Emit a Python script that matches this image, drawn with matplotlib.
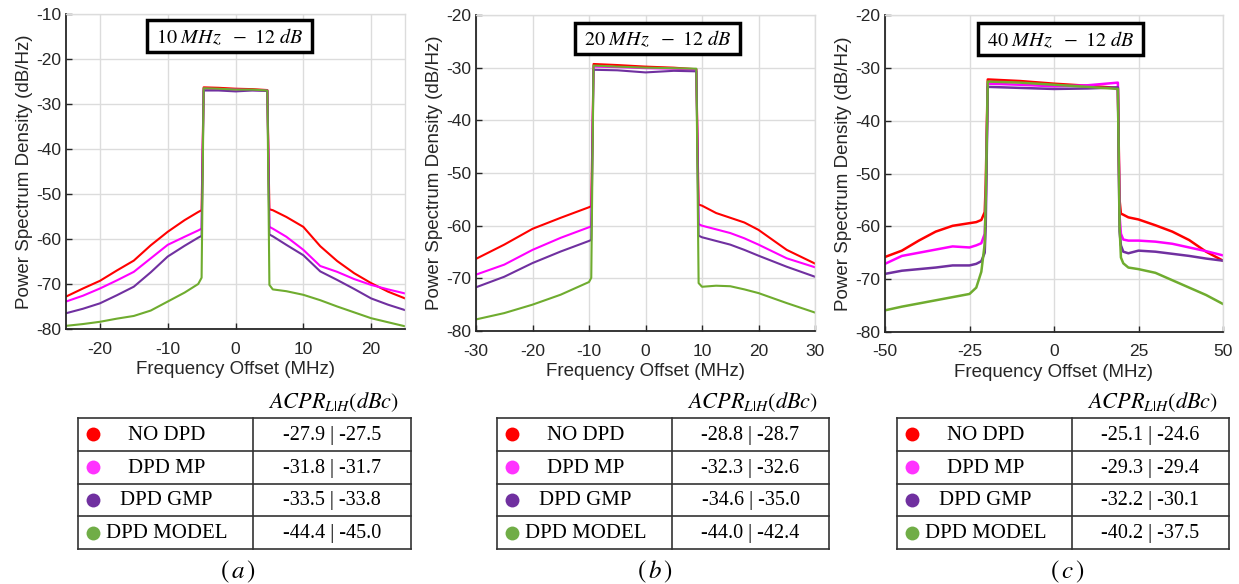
import matplotlib.pyplot as plt
from matplotlib.patches import Rectangle

plt.rcParams['font.family'] = ['Liberation Sans', 'DejaVu Sans']
plt.rcParams['mathtext.fontset'] = 'stix'
plt.rcParams['axes.unicode_minus'] = False

# ---- spectra, 10 MHz signal ----
freq_a = [-25, -22.5, -20, -17.5, -15, -12.5, -10, -7.5, -5.5, -5.0, -4.7, -2.5, 0, 2.5, 4.7,
          5.0, 5.5, 7.5, 10, 12.5, 15, 17.5, 20, 22.5, 25]
nodpd_a = [-72.8, -71.0, -69.3, -67.0, -64.8, -61.4, -58.4, -55.8, -54.0, -53.6, -26.3, -26.4,
           -26.6, -26.7, -26.9, -53.4, -53.6, -55.1, -57.3, -61.6, -64.9, -67.6, -69.8, -71.7,
           -73.2]
mp_a = [-73.9, -72.6, -71.0, -69.2, -67.3, -64.3, -61.3, -59.5, -58.1, -57.7, -26.6, -26.7,
        -26.8, -26.9, -27.0, -57.3, -57.7, -59.5, -62.4, -66.0, -67.3, -68.9, -70.2, -71.2, -72.1]
gmp_a = [-76.5, -75.5, -74.3, -72.5, -70.6, -67.4, -63.9, -61.5, -59.7, -59.3, -27.0, -27.0,
         -27.2, -27.0, -27.1, -59.0, -59.4, -61.3, -63.6, -67.2, -69.1, -71.1, -73.2, -74.6,
         -75.8]
model_a = [-79.3, -78.9, -78.4, -77.7, -77.1, -75.9, -73.9, -71.9, -70.0, -68.6, -26.5, -26.6,
           -26.8, -26.8, -27.0, -70.2, -71.2, -71.6, -72.4, -73.6, -75.0, -76.3, -77.6, -78.5,
           -79.4]

# ---- spectra, 20 MHz signal ----
freq_b = [-30, -25, -20, -15, -10, -9.6, -9.2, -5, 0, 5, 9.0, 9.4, 10, 12.5, 15, 17.5, 20, 25, 30]
nodpd_b = [-66.3, -63.6, -60.6, -58.5, -56.5, -56.3, -29.3, -29.5, -29.8, -30.0, -30.3, -56.0,
           -56.2, -57.6, -58.5, -59.4, -60.8, -64.6, -67.2]
mp_b = [-69.3, -67.4, -64.6, -62.3, -60.3, -60.1, -29.8, -29.9, -30.1, -30.2, -30.4, -59.7,
        -60.0, -60.7, -61.4, -62.4, -63.6, -66.2, -67.9]
gmp_b = [-71.7, -69.7, -67.1, -64.9, -62.9, -62.7, -30.4, -30.5, -30.9, -30.6, -30.7, -61.9,
         -62.2, -62.9, -63.6, -64.6, -65.7, -67.8, -69.7]
model_b = [-77.8, -76.6, -75.0, -73.1, -70.7, -69.9, -29.6, -29.8, -30.0, -30.1, -30.2, -70.9,
           -71.6, -71.4, -71.5, -72.1, -72.8, -74.7, -76.5]

# ---- spectra, 40 MHz signal ----
freq_c = [-50, -45, -40, -35, -30, -25, -23, -21.5, -20.5, -20.2, -19.6, -10, 0, 10, 18.9,
          19.4, 19.8, 20.5, 22, 25, 30, 35, 40, 45, 50]
nodpd_c = [-65.8, -64.6, -62.7, -61.0, -59.9, -59.4, -59.2, -58.8, -57.3, -52.0, -32.2, -32.5,
           -33.0, -33.4, -33.8, -55.0, -57.6, -57.8, -58.3, -58.7, -59.8, -61.0, -62.6, -64.8,
           -66.5]
mp_c = [-67.1, -65.6, -65.0, -64.4, -63.8, -64.0, -63.6, -63.2, -61.4, -56.0, -33.0, -33.2,
        -33.5, -33.3, -32.8, -58.0, -61.4, -62.5, -62.7, -62.7, -62.9, -63.3, -64.0, -64.7,
        -65.5]
gmp_c = [-69.0, -68.4, -68.1, -67.8, -67.4, -67.4, -67.1, -66.6, -65.0, -60.0, -33.6, -33.8,
         -34.0, -33.9, -33.7, -61.0, -63.6, -64.8, -65.1, -64.6, -64.8, -65.2, -65.6, -66.1,
         -66.5]
model_c = [-75.9, -75.2, -74.6, -74.0, -73.4, -72.8, -71.6, -68.6, -63.3, -55.0, -32.6, -32.8,
           -33.2, -33.6, -34.0, -60.0, -65.9, -67.0, -67.8, -68.1, -68.8, -70.2, -71.6, -73.0,
           -74.7]

# ---- ACPR table (lower | upper channel, dBc) ----
methods = ['NO DPD', 'DPD MP', 'DPD GMP', 'DPD MODEL']
acpr_a = [(-27.9, -27.5), (-31.8, -31.7), (-33.5, -33.8), (-44.4, -45.0)]
acpr_b = [(-28.8, -28.7), (-32.3, -32.6), (-34.6, -35.0), (-44.0, -42.4)]
acpr_c = [(-25.1, -24.6), (-29.3, -29.4), (-32.2, -30.1), (-40.2, -37.5)]
bandwidths = ['10', '20', '40']
captions = ['a', 'b', 'c']

line_colors = ['#ff0000', '#ff00ff', '#7030a0', '#6fac2f']
dot_colors = ['#ff0000', '#ff33ff', '#7030a0', '#70ad47']

W, H = 1239, 584
fig = plt.figure(figsize=(W / 100, H / 100), dpi=100)

# axes boxes in pixels: left, top, right, bottom
ax_boxes = [(66, 14, 405, 329), (476, 15, 815, 331), (885, 15, 1223, 332)]
panels = [
    (freq_a, [nodpd_a, mp_a, gmp_a, model_a], (-25, 25), [-20, -10, 0, 10, 20], (-80, -10)),
    (freq_b, [nodpd_b, mp_b, gmp_b, model_b], (-30, 30), [-30, -20, -10, 0, 10, 20, 30], (-80, -20)),
    (freq_c, [nodpd_c, mp_c, gmp_c, model_c], (-50, 50), [-50, -25, 0, 25, 50], (-80, -20)),
]

for i, (freq, series, xlim, xticks, ylim) in enumerate(panels):
    l, t, r, b = ax_boxes[i]
    ax = fig.add_axes([l / W, 1 - b / H, (r - l) / W, (b - t) / H])
    lw = 1.8 if i == 2 else 1.5
    for psd, c in zip(series, line_colors):
        ax.plot(freq, psd, color=c, lw=lw)
    ax.set_xlim(*xlim)
    ax.set_ylim(*ylim)
    ax.set_xticks(xticks)
    ax.set_yticks(range(ylim[0], ylim[1] + 1, 10))
    ax.grid(True, color='#dcdcdc', lw=1)
    ax.set_axisbelow(True)
    for side in ['top', 'right']:
        ax.spines[side].set_color('#dcdcdc')
        ax.spines[side].set_linewidth(1)
    for side in ['left', 'bottom']:
        ax.spines[side].set_color('#262626')
        ax.spines[side].set_linewidth(1.3)
    ax.tick_params(direction='in', length=4, width=1, labelsize=12.5, colors='#262626',
                   top=False, right=False)
    ax.tick_params(axis='x', pad=9)
    ax.set_xlabel('Frequency Offset (MHz)', fontsize=13.5, color='#262626', labelpad=3)
    ax.set_ylabel('Power Spectrum Density (dB/Hz)', fontsize=13.5, color='#262626', labelpad=2)

# overlay in pixel coordinates for title boxes and tables
ov = fig.add_axes([0, 0, 1, 1])
ov.set_xlim(0, W)
ov.set_ylim(H, 0)
ov.axis('off')

title_boxes = [(147, 20, 312, 52), (575, 23, 740, 54), (978, 23, 1143, 55)]
for (x0, y0, x1, y1), bw in zip(title_boxes, bandwidths):
    ov.add_patch(Rectangle((x0, y0), x1 - x0, y1 - y0, fill=True, fc='white', ec='black', lw=2.5))
    ov.text((x0 + x1) / 2, (y0 + y1) / 2 + 1, r'$%s\ MHz\ \ -\ 12\ dB$' % bw,
            ha='center', va='center', fontsize=14.5)

tab_left = [78, 497, 897]
tab_mid = [253, 672, 1072]
tab_right = [411, 829, 1229]
tab_top = 418
row_h = 32.75
caption_x = [238, 655, 1067]
serif = ['Liberation Serif', 'DejaVu Serif']

for k, acpr in enumerate([acpr_a, acpr_b, acpr_c]):
    x0, xm, x1 = tab_left[k], tab_mid[k], tab_right[k]
    y_bot = tab_top + row_h * len(methods)
    for j in range(len(methods) + 1):
        y = tab_top + j * row_h
        ov.plot([x0, x1], [y, y], color='#333333', lw=1.2, solid_capstyle='projecting')
    for x in [x0, xm, x1]:
        ov.plot([x, x], [tab_top, y_bot], color='#333333', lw=1.2, solid_capstyle='projecting')
    for j, (name, (lo, hi)) in enumerate(zip(methods, acpr)):
        yc = tab_top + (j + 0.5) * row_h
        ov.plot(x0 + 14.5, yc, 'o', color=dot_colors[j], ms=10, mec='none')
        ov.text((x0 + xm) / 2 + 1, yc + 1, name, ha='center', va='center',
                fontsize=15, family=serif)
        ov.text((xm + x1) / 2, yc + 1, '%.1f | %.1f' % (lo, hi), ha='center', va='center',
                fontsize=14.5, family=serif)
    ov.text((xm + x1) / 2 + 2, 402, r'$ACPR_{L|H}(dBc)$', ha='center', va='center', fontsize=16)
    ov.text(caption_x[k], 572, r'$(\,%s\,)$' % captions[k], ha='center', va='center', fontsize=18)

fig.savefig('out.png', dpi=100)
